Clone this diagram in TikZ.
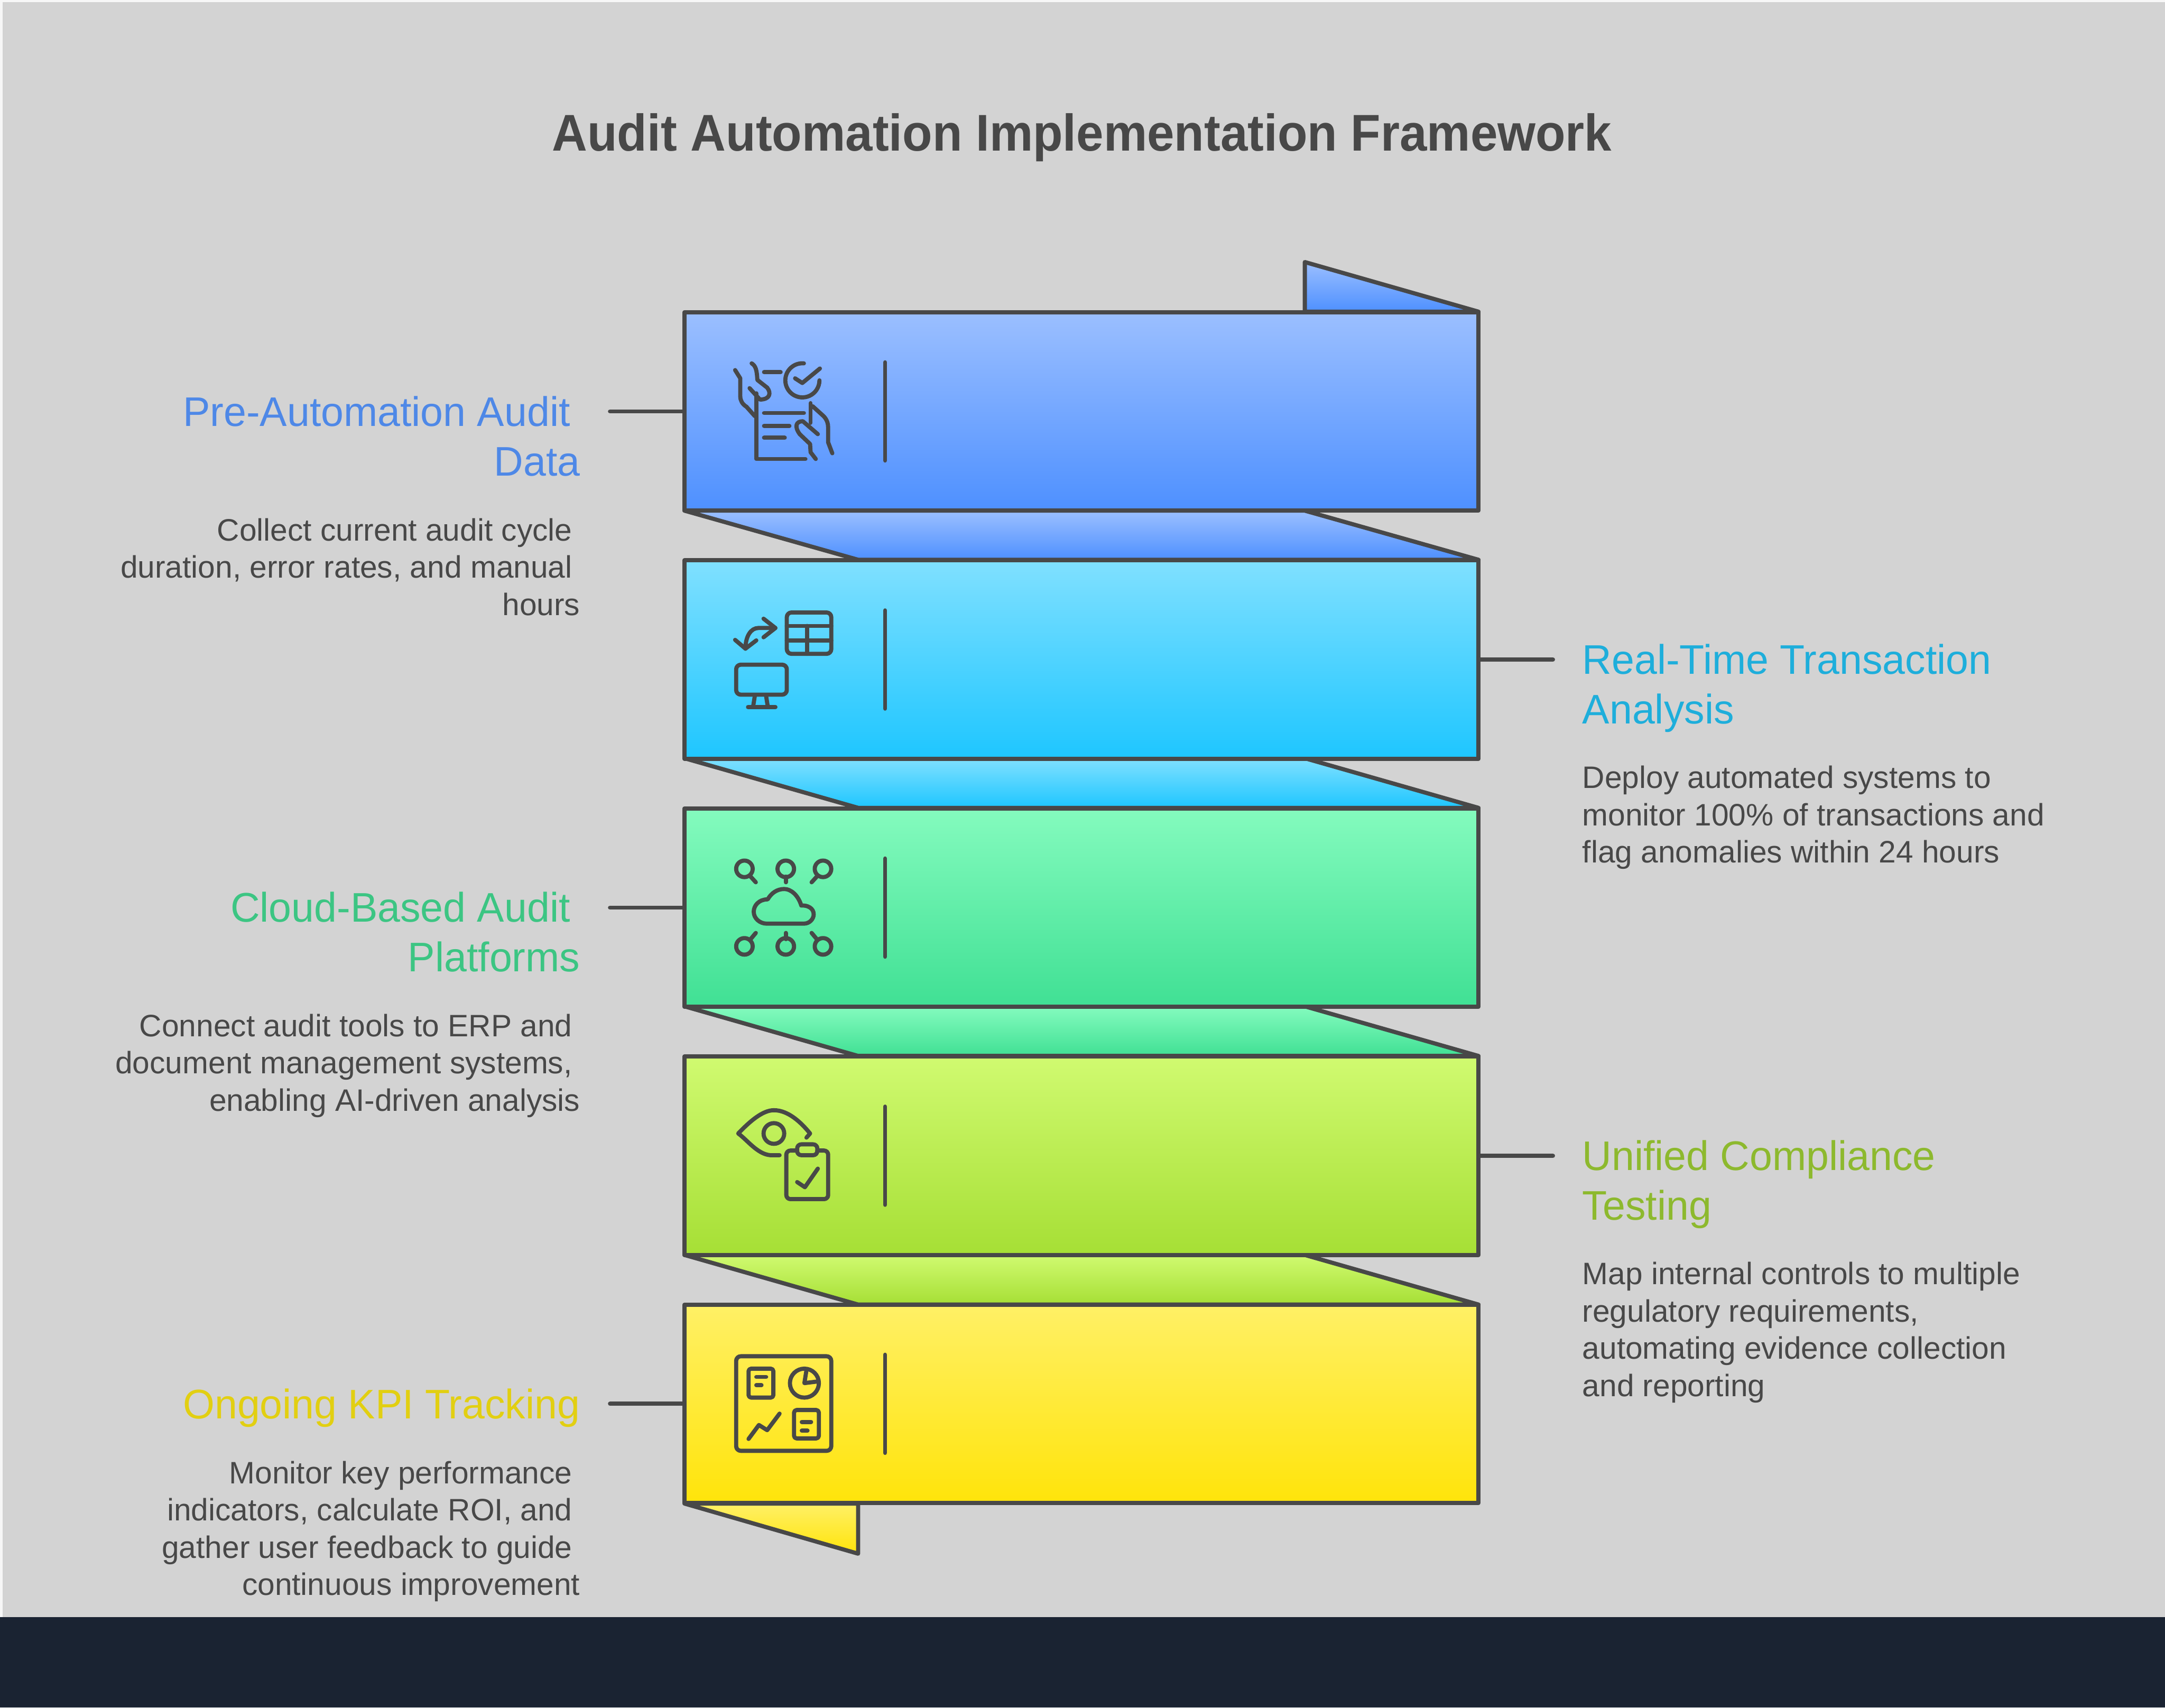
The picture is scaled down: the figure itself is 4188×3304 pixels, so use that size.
\documentclass[tikz,border=0pt]{standalone}
\usepackage{fontspec}
\setmainfont{Liberation Sans}
\newfontface\titlefont[FakeStretch=0.946]{Liberation Sans Bold}
\newfontface\headfont[FakeStretch=0.985]{Liberation Sans}
\newcommand{\trailgap}[1]{\hbox to #1pt{\hfil}}
\definecolor{ink}{HTML}{484848}
\definecolor{bgc}{HTML}{D3D3D3}
\definecolor{band}{HTML}{1A2332}
\definecolor{hA}{HTML}{4E88E7}\definecolor{hB}{HTML}{1EAEDB}\definecolor{hC}{HTML}{3CC583}\definecolor{hD}{HTML}{8DB92E}\definecolor{hE}{HTML}{E2CF11}
\definecolor{aT}{HTML}{9BBFFF}\definecolor{aB}{HTML}{4E90FF}
\definecolor{bT}{HTML}{80E0FF}\definecolor{bB}{HTML}{1EC6FF}
\definecolor{cT}{HTML}{84FBBE}\definecolor{cB}{HTML}{40E094}
\definecolor{dT}{HTML}{D0FA70}\definecolor{dB}{HTML}{A6DF35}
\definecolor{eT}{HTML}{FFF066}\definecolor{eB}{HTML}{FFE40A}
\tikzset{
 x=1pt,y=-1pt,
 edge/.style={draw=ink,line width=8pt,line join=round,line cap=round},
 band box/.style={edge,minimum width=1536pt,minimum height=384pt,inner sep=0pt,outer sep=0pt,anchor=north west},
 ic/.style={draw=ink,line width=8pt,line cap=round,line join=round},
 link/.style={draw=ink,line width=8pt,line cap=round},
 divider/.style={draw=ink,line width=8pt,line cap=round},
 head/.style={font=\headfont\fontsize{80}{96}\selectfont,inner sep=0pt,outer sep=0pt},
 desc/.style={font=\fontsize{60}{72}\selectfont,text=ink,inner sep=0pt,outer sep=0pt},
}
\begin{document}
\begin{tikzpicture}
\useasboundingbox (0,0) rectangle (4188,3304);
\fill[white!97!black] (0,0) rectangle (4188,3304);
\fill[bgc] (5,4) rectangle (4188,3304);
\fill[band] (0,3129) rectangle (4188,3304);
% folds
\draw[edge,top color=aT,bottom color=aB] (2524,507) -- (2860,603) -- (2524,603) -- cycle;
\draw[edge,top color=aT,bottom color=aB] (1324,988) -- (2524,988) -- (2860,1083) -- (1660,1083) -- cycle;
\draw[edge,top color=bT,bottom color=bB] (1324,1467) -- (2524,1467) -- (2860,1563) -- (1660,1563) -- cycle;
\draw[edge,top color=cT,bottom color=cB] (1324,1947) -- (2524,1947) -- (2860,2043) -- (1660,2043) -- cycle;
\draw[edge,top color=dT,bottom color=dB] (1324,2428) -- (2524,2428) -- (2860,2524) -- (1660,2524) -- cycle;
\draw[edge,top color=eT,bottom color=eB] (1324,2909) -- (1660,3006) -- (1660,2909) -- cycle;
% bands
\node[band box,top color=aT,bottom color=aB] (A) at (1324,604) {};
\node[band box,top color=bT,bottom color=bB] (B) at (1324,1084) {};
\node[band box,top color=cT,bottom color=cB] (C) at (1324,1564) {};
\node[band box,top color=dT,bottom color=dB] (D) at (1324,2044) {};
\node[band box,top color=eT,bottom color=eB] (E) at (1324,2524) {};
% dividers
\foreach \c in {796,1276,1756,2236,2716}{
  \draw[divider] (1712,\c-95) -- (1712,\c+95);
}
% connectors
\coordinate (la) at (1180,796);\coordinate (lc) at (1180,1756);\coordinate (le) at (1180,2716);
\coordinate (lb) at (3004,1276);\coordinate (ld) at (3004,2236);
\draw[link] (la) -- (A.west);
\draw[link] (B.east) -- (lb);
\draw[link] (lc) -- (C.west);
\draw[link] (D.east) -- (ld);
\draw[link] (le) -- (E.west);
% icon A
\draw[ic] (1422,716) -- (1432,732) -- (1432,767) .. controls (1432,775) and (1436,782) .. (1444,787) -- (1460,805);
\draw[ic] (1454,703) .. controls (1462,708) and (1464,716) .. (1465,735) -- (1484,750) .. controls (1492,760) and (1490,773) .. (1470,773) -- (1450,751);
\draw[ic] (1463,761) -- (1463,888) -- (1558,888);
\draw[ic] (1478,720) -- (1510,720);
\draw[ic] (1555,703) arc[start angle=-85,end angle=-360,radius=33];
\draw[ic] (1538,732) -- (1552,741) -- (1586,713);
\draw[ic] (1478,799) -- (1555,799);
\draw[ic] (1478,824) -- (1527,824);
\draw[ic] (1478,847) -- (1518,847);
\draw[ic] (1568,780) -- (1568,818);
\draw[ic] (1572,786) -- (1593,805) .. controls (1600,812) and (1602,820) .. (1602,828) -- (1602,856) -- (1610,877);
\draw[ic] (1582,840) -- (1553,815) .. controls (1540,815) and (1536,825) .. (1547,840) -- (1567,859) -- (1568,875) -- (1578,888);
% icon B
\draw[ic,rounded corners=9pt] (1522,1185) rectangle (1608,1265);
\draw[ic] (1522,1211) -- (1608,1211);
\draw[ic] (1522,1239) -- (1608,1239);
\draw[ic] (1561,1211) -- (1561,1265);
\draw[ic,rounded corners=9pt] (1424,1286) rectangle (1522,1344);
\draw[ic] (1460,1347) -- (1457,1366);
\draw[ic] (1482,1347) -- (1485,1366);
\draw[ic] (1447,1368) -- (1500,1368);
\draw[ic] (1500,1215) -- (1467,1215) .. controls (1452,1215) and (1442,1232) .. (1442,1255);
\draw[ic] (1477,1197) -- (1500,1215) -- (1477,1233);
\draw[ic] (1422,1238) -- (1442,1255) -- (1463,1239);
% icon C
\foreach \x/\hx/\ex in {1440/1452/1462,1520/1520/1520,1592/1580/1570}{
  \draw[ic] (\x,1681) circle[radius=16];
  \draw[ic] (\hx,1696) -- (\ex,1707);
  \draw[ic] (\x,1831) circle[radius=16];
  \draw[ic] (\hx,1817) -- (\ex,1805);
}
\draw[ic] (1483,1787) -- (1555,1787) .. controls (1566,1787) and (1574,1778) .. (1574,1769) .. controls (1574,1757) and (1562,1751) .. (1550,1752) .. controls (1544,1732) and (1530,1720) .. (1517,1720) .. controls (1503,1720) and (1492,1728) .. (1485,1740) .. controls (1468,1740) and (1458,1752) .. (1458,1764) .. controls (1458,1777) and (1470,1787) .. (1483,1787) -- cycle;
% icon D
\draw[ic] (1508,2235) -- (1490,2235) .. controls (1465,2233) and (1445,2205) .. (1428,2193) .. controls (1450,2170) and (1475,2148) .. (1497,2148) .. controls (1525,2148) and (1550,2172) .. (1567,2193) -- (1560,2201);
\draw[ic] (1497,2193) circle[radius=20];
\draw[ic,rounded corners=8pt] (1542,2226) -- (1521,2226) -- (1521,2320) -- (1602,2320) -- (1602,2226) -- (1581,2226);
\draw[ic,rounded corners=8pt] (1542,2214) rectangle (1581,2235);
\draw[ic] (1542,2287) -- (1557,2297) -- (1582,2261);
% icon E
\draw[ic,rounded corners=9pt] (1424,2624) rectangle (1608,2807);
\draw[ic,rounded corners=5pt] (1448,2648) rectangle (1496,2704);
\draw[ic] (1463,2664) -- (1482,2664);
\draw[ic] (1463,2680) -- (1473,2680);
\draw[ic] (1556,2676) circle[radius=28];
\draw[ic] (1560,2651) -- (1556,2676) -- (1580,2673);
\draw[ic] (1448,2784) -- (1468,2757) -- (1484,2767) -- (1508,2735);
\draw[ic,rounded corners=5pt] (1536,2728) rectangle (1584,2783);
\draw[ic] (1551,2751) -- (1569,2751);
\draw[ic] (1551,2768) -- (1562,2768);
% title
\node[font=\titlefont\fontsize{100}{120}\selectfont,text=ink,inner sep=0pt] (title) at (2093,266) {Audit Automation Implementation Framework};
% left texts
\node[head,text=hA,align=right,anchor=north east] (ha) at (1122,767) {Pre-Automation Audit\trailgap{19}\\Data};
\node[desc,align=right,anchor=north east] (da) at (1122,1003) {Collect current audit cycle\trailgap{15}\\duration, error rates, and manual\trailgap{15}\\hours};
\node[head,text=hC,align=right,anchor=north east] (hc) at (1122,1726) {Cloud-Based Audit\trailgap{19}\\Platforms};
\node[desc,align=right,anchor=north east] (dc) at (1122,1962) {Connect audit tools to ERP and\trailgap{15}\\document management systems,\trailgap{15}\\enabling AI-driven analysis};
\node[head,text=hE,align=right,anchor=north east] (he) at (1122,2687) {Ongoing KPI Tracking};
\node[desc,align=right,anchor=north east] (de) at (1122,2827) {Monitor key performance\trailgap{15}\\indicators, calculate ROI, and\trailgap{15}\\gather user feedback to guide\trailgap{15}\\continuous improvement};
% right texts
\node[head,text=hB,align=left,anchor=north west] (hb) at (3061,1246) {Real-Time Transaction\\Analysis};
\node[desc,align=left,anchor=north west] (db) at (3061,1482) {Deploy automated systems to\\monitor 100\% of transactions and\\flag anomalies within 24 hours};
\node[head,text=hD,align=left,anchor=north west] (hd) at (3061,2206) {Unified Compliance\\Testing};
\node[desc,align=left,anchor=north west] (dd) at (3061,2442) {Map internal controls to multiple\\regulatory requirements,\\automating evidence collection\\and reporting};
\end{tikzpicture}
\end{document}
